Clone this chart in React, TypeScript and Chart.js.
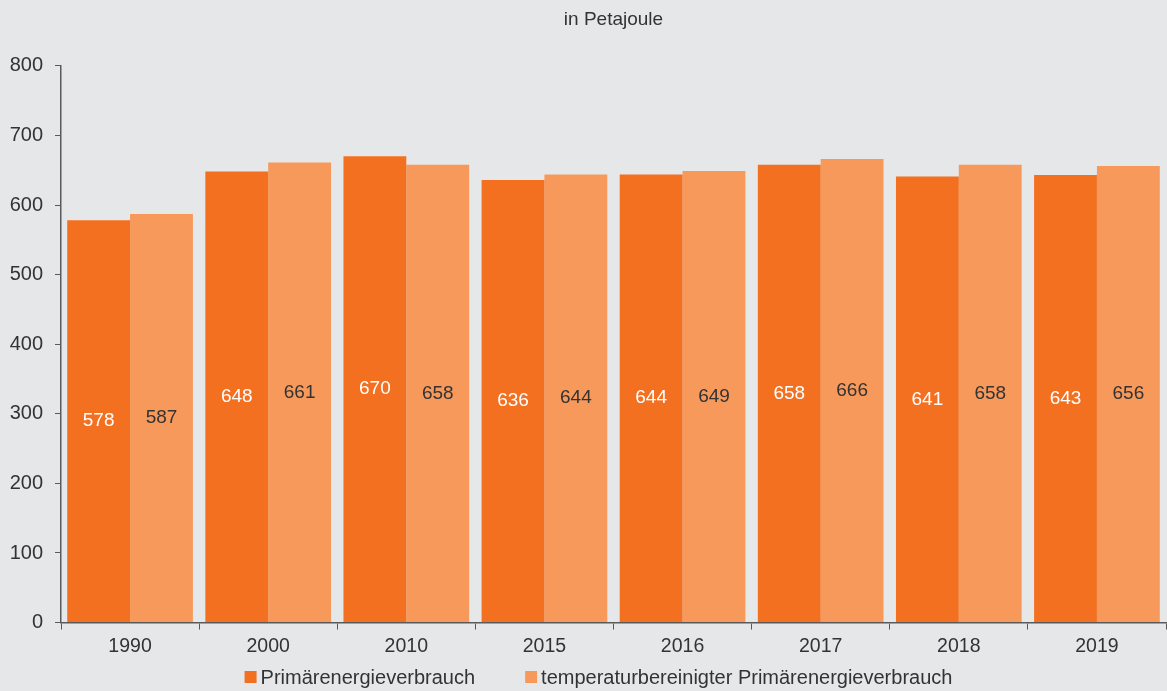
import React, { useEffect, useRef } from "react";
import { Chart, registerables } from "chart.js";

Chart.register(...registerables);

const categories = ["1990", "2000", "2010", "2015", "2016", "2017", "2018", "2019"];
const primaer = [578, 648, 670, 636, 644, 658, 641, 643];
const temperaturbereinigt = [587, 661, 658, 644, 649, 666, 658, 656];
const seriesNames = ["Primärenergieverbrauch", "temperaturbereinigter Primärenergieverbrauch"];
const yTicks = [0, 100, 200, 300, 400, 500, 600, 700, 800];

const FONT = "'Liberation Sans', Arial, Helvetica, sans-serif";
const TEXT = "#333333";
const AXIS = "#5a5a5a";
const DARK = "#f37021";
const LIGHT = "#f7995b";
const BG = "#e6e7e8";

const barLabels = {
  id: "barLabels",
  afterDatasetsDraw(chart: any) {
    const ctx = chart.ctx;
    ctx.save();
    ctx.font = `19px ${FONT}`;
    ctx.textAlign = "center";
    ctx.textBaseline = "middle";
    chart.data.datasets.forEach((ds: any, di: number) => {
      const meta = chart.getDatasetMeta(di);
      ctx.fillStyle = di === 0 ? "#ffffff" : TEXT;
      meta.data.forEach((bar: any, i: number) => {
        const y = (bar.y + bar.base) / 2;
        ctx.fillText(String(ds.data[i]), bar.x, y);
      });
    });
    ctx.restore();
  },
};

const customLegend = {
  id: "customLegend",
  afterDraw(chart: any) {
    const ctx = chart.ctx;
    ctx.save();
    ctx.font = `20px ${FONT}`;
    ctx.textBaseline = "middle";
    const box = 12;
    const gap = 4;
    const itemGap = 50;
    const items = chart.data.datasets.map((ds: any) => ({
      label: ds.label,
      color: ds.backgroundColor,
      w: ctx.measureText(ds.label).width,
    }));
    const total = items.reduce((s: number, it: any) => s + box + gap + it.w, 0) + itemGap * (items.length - 1);
    let x = chart.width / 2 + 15 - total / 2;
    const cy = chart.height - 13;
    items.forEach((it: any) => {
      ctx.fillStyle = it.color;
      ctx.fillRect(x, cy - box / 2 - 1, box, box);
      x += box + gap;
      ctx.fillStyle = TEXT;
      ctx.fillText(it.label, x, cy);
      x += it.w + itemGap;
    });
    ctx.restore();
  },
};

const bgPlugin = {
  id: "bgFill",
  beforeDraw(chart: any) {
    const ctx = chart.ctx;
    ctx.save();
    ctx.fillStyle = BG;
    ctx.fillRect(0, 0, chart.width, chart.height);
    ctx.restore();
  },
};

export default function App() {
  const ref = useRef<HTMLCanvasElement | null>(null);

  useEffect(() => {
    document.body.style.margin = "0";
    document.body.style.background = BG;
    if (!ref.current) return;
    const chart = new Chart(ref.current, {
      type: "bar",
      data: {
        labels: categories,
        datasets: [
          { label: seriesNames[0], data: primaer, backgroundColor: DARK, borderWidth: 0 },
          { label: seriesNames[1], data: temperaturbereinigt, backgroundColor: LIGHT, borderWidth: 0 },
        ],
      },
      options: {
        responsive: false,
        animation: false,
        devicePixelRatio: 1,
        layout: { padding: { left: 8, right: 1, top: 0, bottom: 28 } },
        datasets: { bar: { categoryPercentage: 0.91, barPercentage: 1 } },
        plugins: {
          title: {
            display: true,
            text: "in Petajoule",
            color: TEXT,
            font: { family: FONT, size: 19, weight: "normal" },
            padding: { top: 8, bottom: 35 },
            fullSize: false,
          },
          legend: { display: false },
          tooltip: { enabled: false },
        },
        scales: {
          x: {
            grid: { display: true, drawOnChartArea: false, drawTicks: true, tickLength: 7, color: AXIS, offset: true },
            border: { display: true, color: AXIS, width: 1.5 },
            ticks: { color: TEXT, font: { family: FONT, size: 19.5 }, padding: 5 },
          },
          y: {
            min: 0,
            max: 800,
            afterBuildTicks: (axis: any) => {
              axis.ticks = yTicks.map((v) => ({ value: v }));
            },
            afterFit: (axis: any) => {
              axis.width = 53;
            },
            grid: { display: true, drawOnChartArea: false, drawTicks: true, tickLength: 6, color: AXIS },
            border: { display: true, color: AXIS, width: 1.5 },
            ticks: { color: TEXT, font: { family: FONT, size: 20 }, padding: 12 },
          },
        },
      },
      plugins: [bgPlugin, barLabels, customLegend],
    });
    return () => chart.destroy();
  }, []);

  return (
    <div style={{ width: 1167, height: 691, background: BG }}>
      <canvas ref={ref} width={1167} height={691} style={{ display: "block" }} />
    </div>
  );
}
